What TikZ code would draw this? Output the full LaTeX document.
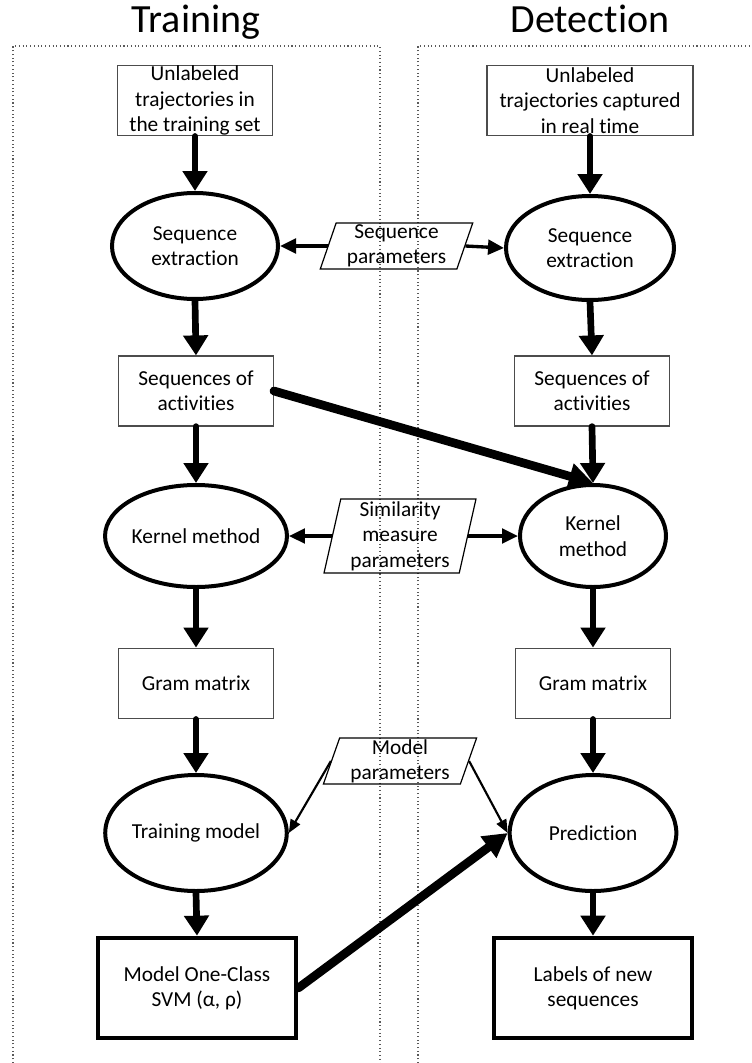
\documentclass[tikz,border=0pt]{standalone}
\usepackage{fontspec}
\setmainfont{Carlito}[Ligatures={NoCommon,NoRequired,NoContextual}, RawFeature=-calt]
\usetikzlibrary{shapes.geometric,arrows.meta}
\begin{document}
\begin{tikzpicture}[x=0.75pt,y=-0.75pt,
  every node/.style={font=\fontsize{16}{19}\selectfont, align=center, inner sep=0pt},
  title/.style={font=\fontsize{30}{36}\selectfont, anchor=base},
  frame/.style={draw=black!65, dotted, line width=0.8pt},
  box/.style={draw=black!70, line width=0.9pt, rectangle, minimum width=116pt, minimum height=53pt},
  bigbox/.style={draw, rectangle, line width=3.5pt, minimum width=148.5pt, minimum height=75pt},
  proc/.style={draw, ellipse, line width=3pt},
  para/.style={draw, trapezium, trapezium stretches=true, line width=0.9pt,
    minimum width=115pt, minimum height=34.5pt},
  bigarr/.style={line width=5pt, line cap=round, -{Triangle[length=15pt,width=18pt]}},
  sidearr/.style={line width=2.5pt, -{Triangle[length=12pt,width=11pt]}},
  thinarr/.style={line width=1.6pt, -{Triangle[length=10pt,width=8pt]}},
  diagarr/.style={line width=6.5pt, line cap=round, -{Triangle[length=18pt,width=19pt]}}
]
\useasboundingbox (0,0) rectangle (752,1063);

% frames
\draw[frame] (13,1063) -- (13,46) -- (380,46) -- (380,1063);
\draw[frame] (418,1063) -- (418,46) -- (752,46);

% titles
\node[title] (tt) at (196,33) {Training};
\node[title] (td) at (590,33) {Detection};

% left column
\node[box] (b1) at (195,100.5) {Unlabeled\\trajectories in\\the training set};
\node[proc, minimum width=124.5pt, minimum height=79.5pt] (e1) at (195,246) {Sequence\\extraction};
\node[box, minimum height=52.5pt] (s1) at (196,391) {Sequences of\\activities};
\node[proc, minimum width=127pt, minimum height=76.5pt] (k1) at (196,536) {Kernel method};
\node[box] (g1) at (196,683.5) {Gram matrix};
\node[proc, minimum width=126pt, minimum height=87pt] (t1) at (196,833) {Training model};
\node[bigbox] (m1) at (197,988) {Model One-Class\\SVM (α, ρ)};

% right column
\node[box, minimum width=154.5pt] (b2) at (590,100.5) {Unlabeled\\trajectories captured\\in real time};
\node[proc, minimum width=126pt, minimum height=78pt] (e2) at (590,248) {Sequence\\extraction};
\node[box, minimum height=52.5pt] (s2) at (592,391) {Sequences of\\activities};
\node[proc, minimum width=109.5pt, minimum height=76.5pt] (k2) at (593,536) {Kernel\\method};
\node[box] (g2) at (593,683.5) {Gram matrix};
\node[proc, minimum width=125pt, minimum height=87pt] (p2) at (593,833) {Prediction};
\node[bigbox] (l2) at (593,988) {Labels of new\\sequences};

% parameter nodes
\node[para, trapezium left angle=73, trapezium right angle=107] (sp) at (396.5,246) {Sequence\\parameters};
\node[para, trapezium left angle=78.5, trapezium right angle=101.5, minimum height=55.5pt] (sm) at (400,536) {Similarity\\measure\\parameters};
\node[para, trapezium left angle=73, trapezium right angle=107] (mp) at (400,761) {Model\\parameters};

% vertical arrows
\draw[bigarr] (b1.south) -- (e1.north);
\draw[bigarr] (e1.south) -- (s1.north);
\draw[bigarr] (s1.south) -- (k1.north);
\draw[bigarr] (k1.south) -- (g1.north);
\draw[bigarr] (g1.south) -- (t1.north);
\draw[bigarr] (t1.south) -- (m1.north);
\draw[bigarr] (b2.south) -- (e2.north);
\draw[bigarr] (e2.south) -- (s2.north);
\draw[bigarr] (s2.south) -- (k2.north);
\draw[bigarr] (k2.south) -- (g2.north);
\draw[bigarr] (g2.south) -- (p2.north);
\draw[bigarr] (p2.south) -- (l2.north);

% parameter arrows
\draw[sidearr] (sp.left side) -- (e1.east);
\draw[sidearr] (sp.right side) -- (e2.west);
\draw[sidearr] (sm.left side) -- (k1.east);
\draw[sidearr] (sm.right side) -- (k2.west);
\draw[thinarr] (mp.left side) -- (t1.east);
\draw[thinarr] (mp.right side) -- (p2.west);

% diagonal arrows
\draw[diagarr] (s1.east) -- (k2.north);
\draw[diagarr] (m1.east) -- (p2.west);
\end{tikzpicture}
\end{document}
